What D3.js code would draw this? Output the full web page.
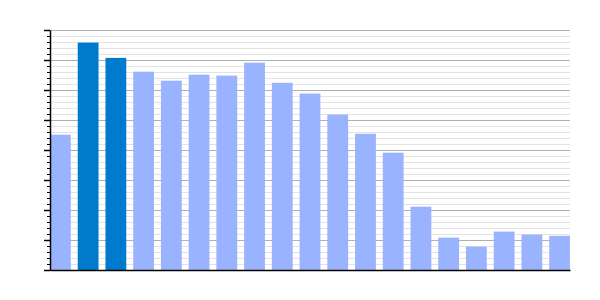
<html><head>
<script src="https://d3js.org/d3.v7.min.js"></script>
<style>
  body { margin: 0; background: #fff; }
  .minor line { stroke: #e3e3e3; }
  .major line { stroke: #b0b0b0; }
  .gridlines .domain { stroke: none; }
</style>
</head>
<body>
<svg id="chart" width="600" height="300"></svg>
<script>
  // bar values (no labels shown, scale 0-80)
  const categories = d3.range(1, 20).map(d => "c" + d);
  const values = [45.1, 75.8, 70.7, 66.1, 63.1, 65.1, 64.8, 69.1, 62.4, 58.8,
                  51.8, 45.4, 39.1, 21.1, 10.8, 7.8, 12.8, 11.8, 11.4];
  const highlighted = ["c2", "c3"];
  const majorTicks = d3.range(0, 81, 10);
  const minorTicks = d3.range(0, 81, 2);

  const svg = d3.select("svg#chart");
  const margins = {top: 30, right: 30, bottom: 30, left: 50};
  const chartWidth = svg.attr("width") - margins.left - margins.right;
  const chartHeight = svg.attr("height") - margins.top - margins.bottom;

  const xScale = d3.scaleBand().domain(categories).range([0, chartWidth])
                   .paddingInner(0.25).paddingOuter(0);
  const yScale = d3.scaleLinear().domain([0, 80]).range([chartHeight, 0]);

  const chart = svg.append("g")
     .attr("transform", "translate(" + margins.left + "," + margins.top + ")");

  // gridlines: light minor first, then darker major
  chart.append("g").attr("class", "gridlines minor")
     .call(d3.axisLeft(yScale).tickValues(minorTicks).tickFormat("").tickSize(-chartWidth));
  chart.append("g").attr("class", "gridlines major")
     .call(d3.axisLeft(yScale).tickValues(majorTicks).tickFormat("").tickSize(-chartWidth));

  chart.selectAll("rect.bar").data(values).enter().append("rect")
     .attr("class", "bar")
     .attr("x", (d, i) => xScale(categories[i]))
     .attr("y", d => yScale(d))
     .attr("width", xScale.bandwidth())
     .attr("height", d => chartHeight - yScale(d))
     .attr("fill", (d, i) => highlighted.includes(categories[i]) ? "#007acc" : "#99b3ff");

  // left axis with minor and major ticks, no labels
  chart.append("g")
     .call(d3.axisLeft(yScale).tickValues(minorTicks).tickFormat("").tickSize(3).tickSizeOuter(0))
     .call(g => g.selectAll("line").attr("stroke", "#000"))
     .call(g => g.select(".domain").attr("stroke", "#000").attr("stroke-width", 1.5));
  chart.append("g")
     .call(d3.axisLeft(yScale).tickValues(majorTicks).tickFormat("").tickSize(6).tickSizeOuter(0))
     .call(g => g.selectAll("line").attr("stroke", "#000").attr("stroke-width", 1.5))
     .call(g => g.select(".domain").remove());

  // bottom baseline
  chart.append("g")
     .attr("transform", "translate(0," + chartHeight + ")")
     .call(d3.axisBottom(xScale).tickValues([]).tickSizeOuter(0))
     .call(g => g.select(".domain").attr("stroke", "#000").attr("stroke-width", 1.5));
</script>
</body>
</html>
